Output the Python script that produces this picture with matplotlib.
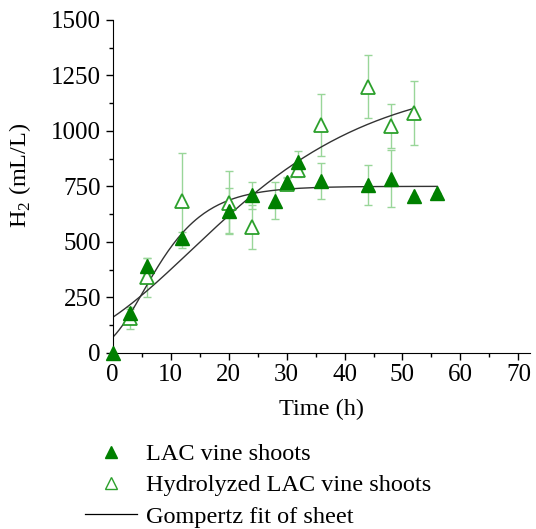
import numpy as np
import matplotlib
matplotlib.use("Agg")
import matplotlib.pyplot as plt
from matplotlib.lines import Line2D
from matplotlib.ticker import MultipleLocator

plt.rcParams['font.family'] = ['Liberation Serif', 'DejaVu Serif']
plt.rcParams['mathtext.fontset'] = 'custom'
plt.rcParams['mathtext.rm'] = 'Liberation Serif'

# LAC vine shoots (filled)
t_lac = [0, 3, 6, 12, 20, 24, 28, 30, 32, 36, 44, 48, 52, 56]
h_lac = [0, 178, 392, 515, 641, 709, 686, 769, 860, 775, 754, 784, 707, 722]
e_lac = [0, 20, 35, 30, 100, 60, 85, 20, 50, 80, 90, 128, 0, 0]

# Hydrolyzed LAC vine shoots (open)
t_hyd = [3, 6, 12, 20, 24, 30, 32, 36, 44, 48, 52]
h_hyd = [156, 339, 686, 677, 566, 762, 824, 1027, 1200, 1023, 1080]
e_hyd = [50, 90, 215, 140, 100, 30, 30, 140, 140, 100, 145]

# Gompertz fit parameters: H = P * exp(-b * exp(-k t))
fit_lac = dict(P=750, b=2.386, k=0.165, tmax=56)
fit_hyd = dict(P=1250, b=2.06, k=0.0537, tmax=52)

dark = '#008000'
light = '#2ca02c'
bar = '#99d699'

fig = plt.figure(figsize=(5.36, 5.29), dpi=100)
ax = fig.add_axes([0.2103, 0.3333, 0.7785, 0.6289])

for f in (fit_lac, fit_hyd):
    tt = np.linspace(0, f['tmax'], 200)
    ax.plot(tt, f['P'] * np.exp(-f['b'] * np.exp(-f['k'] * tt)),
            color='#333333', lw=1.0, zorder=2)

ax.errorbar(t_hyd, h_hyd, yerr=e_hyd, fmt='none', ecolor=bar, elinewidth=1.0,
            capsize=3, capthick=1.0, zorder=1)
ax.errorbar(t_lac, h_lac, yerr=e_lac, fmt='none', ecolor=bar, elinewidth=1.0,
            capsize=3, capthick=1.0, zorder=1)
ax.plot(t_hyd, h_hyd, '^', ms=10, mfc='white', mec=light, mew=1.3, ls='none',
        zorder=3, clip_on=False)
ax.plot(t_lac, h_lac, '^', ms=10, color=dark, ls='none', zorder=4, clip_on=False)

ax.set_xlim(0, 72)
ax.set_ylim(0, 1500)
ax.set_xticks(range(0, 71, 10))
ax.set_yticks(range(0, 1501, 250))
ax.xaxis.set_minor_locator(MultipleLocator(5))
ax.yaxis.set_minor_locator(MultipleLocator(125))
ax.tick_params(which='major', direction='out', length=5, width=1, labelsize=18)
ax.tick_params(which='minor', direction='out', length=3, width=1)
for s in ('top', 'right'):
    ax.spines[s].set_visible(False)
ax.set_xlabel('Time (h)', fontsize=17.5, labelpad=9)
ax.set_ylabel('H$_2$ (mL/L)', fontsize=17.5)
ax.yaxis.set_label_coords(-0.19, 0.532)

handles = [
    Line2D([], [], marker='^', ls='none', color=dark, ms=8),
    Line2D([], [], marker='^', ls='none', mfc='white', mec=light, ms=8, mew=1.0),
    Line2D([], [], color='black', lw=0.9),
]
labels = ['LAC vine shoots', 'Hydrolyzed LAC vine shoots', 'Gompertz fit of sheet']
fig.legend(handles, labels, loc='upper left', bbox_to_anchor=(0.159, 0.1625),
           frameon=False, fontsize=17.5, handlelength=2.15, handletextpad=0.33,
           labelspacing=0.38, borderpad=0, borderaxespad=0)

fig.savefig('out.png', dpi=100)
